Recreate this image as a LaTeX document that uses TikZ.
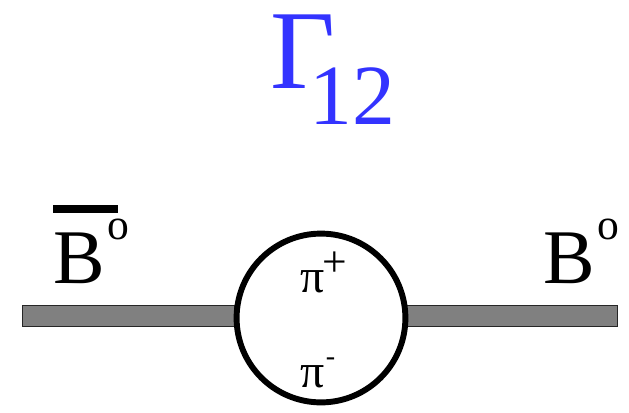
\documentclass[tikz,border=0pt]{standalone}
\usepackage{fontspec}
\setmainfont{Liberation Serif}
\definecolor{gammablue}{RGB}{51,51,255}
\definecolor{bargray}{RGB}{128,128,128}

\begin{document}
\begin{tikzpicture}[
  bar/.style={draw=black!85, fill=bargray, line width=0.9pt, minimum width=5.3cm, minimum height=0.525cm, inner sep=0pt},
  loopc/.style={draw, circle, line width=4.2pt, minimum size=4.22cm, inner sep=0pt, fill=white},
  meson/.style={anchor=base west, inner sep=0pt, font=\fontsize{55}{55}\selectfont},
  pion/.style={anchor=base west, inner sep=0pt, font=\fontsize{34}{34}\selectfont}]

\useasboundingbox (0,0) rectangle (15.725,-10.3);

% =================================================================================
% title
% =================================================================================
\node[anchor=base west, inner sep=0pt, text=gammablue, font=\fontsize{80}{80}\selectfont]
  (title) at (6.75,-2.2) {Γ\kern-18pt\raisebox{-26.3pt}{\fontsize{61}{61}\selectfont 12}};

% =================================================================================
% the two lines and the pion loop
% =================================================================================
\node[bar]   (barL) at (3.2125,-7.9) {};
\node[bar]   (barR) at (12.7875,-7.9) {};
\node[loopc] (loop) at (8.025,-7.95) {};

\node[meson] (bbar) at (1.325,-7.075)
  {\rlap{\rule[49.8pt]{46.2pt}{5.7pt}}B\kern2pt\raisebox{30.6pt}{\fontsize{31}{31}\selectfont o}};
\node[meson] (b) at (13.575,-7.075)
  {B\kern2pt\raisebox{30.6pt}{\fontsize{31}{31}\selectfont o}};

\node[pion] (piplus)  at (7.5,-7.3)   {π\kern-1.5pt\raisebox{11pt}{\fontsize{31}{31}\selectfont +}};
\node[pion] (piminus) at (7.5,-9.675) {π\kern1pt\raisebox{15.6pt}{\fontsize{20}{20}\selectfont -}};

\end{tikzpicture}
\end{document}
